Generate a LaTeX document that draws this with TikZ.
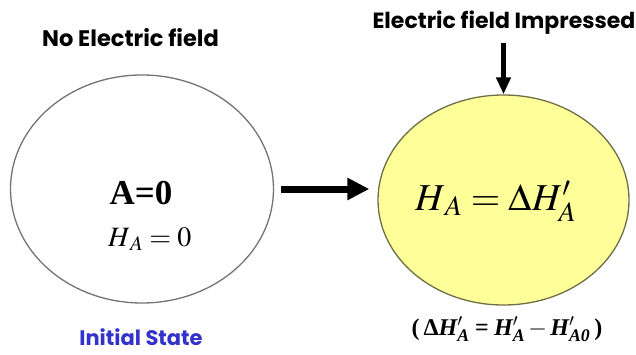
\documentclass[tikz,border=0pt]{standalone}
\usepackage{mathptmx}
\usepackage{amsmath}
\usepackage{fontspec}
\setmainfont{Liberation Serif}
\newfontfamily\headfont{Poppins}
\usetikzlibrary{arrows.meta, positioning, shapes.geometric}
\definecolor{fieldyellow}{RGB}{255,255,153}
\definecolor{fieldrim}{RGB}{110,110,70}
\definecolor{stateblue}{RGB}{51,51,204}
% bold italic letter for the bottom formula
\newcommand{\bi}[1]{\text{\bfseries\itshape #1}}

\begin{document}
\begin{tikzpicture}[
  x=1pt, y=1pt,
  state/.style={ellipse, draw, line width=1.3pt, inner sep=0pt},
  head/.style={font=\headfont\bfseries\fontsize{22.5}{26}\selectfont, inner sep=1pt},
  edge/.style={-{Triangle[length=22pt, width=21pt]}, line width=7pt},
  push/.style={-{Triangle[length=17pt, width=14pt]}, line width=5pt}
]
\useasboundingbox (0,0) rectangle (636,354);

\node[state, draw=gray!90!black, minimum width=263pt, minimum height=228pt] (0) at (142,165) {};
\node[state, draw=fieldrim, fill=fieldyellow, minimum width=251pt, minimum height=210pt] (1) at (503.5,154) {};

\node[head] (none) at (130.5,316) {No Electric field};
\node[head, font=\headfont\bfseries\fontsize{22}{26}\selectfont] (field) at (504,331) {Electric field Impressed};

\node[font=\bfseries\fontsize{35}{38}\selectfont] (a0) at (141,161) {A=0};
\node[anchor=base west, inner sep=0pt, font=\fontsize{28}{30}\selectfont] (h0) at (108,108) {$H_{\,A}=0$};
\node[anchor=base west, inner sep=0pt, font=\fontsize{38}{42}\selectfont] (h1) at (415,144) {$H_{\,A}=\Delta H'_{A}$};

\node[head, font=\headfont\bfseries\fontsize{21}{25}\selectfont, text=stateblue] (init) at (141,17) {Initial State};
\node[anchor=base, inner sep=0pt, font=\bfseries\fontsize{24}{28}\selectfont] (dh) at (507,19)
  {$\text{\bfseries(\,Δ}\bi{H}'_{\bi{A}} \mathrel{\text{\bfseries =}} \bi{H}'_{\bi{A}} - \bi{H}'_{\bi{A0}}\text{\bfseries\,)}$};

\draw[edge, shorten <=7pt, shorten >=8pt] (0.east) -- (0.east -| 1.west);
\draw[push, shorten <=7pt] (field.south -| 1.north) -- (1.north);
\end{tikzpicture}
\end{document}
